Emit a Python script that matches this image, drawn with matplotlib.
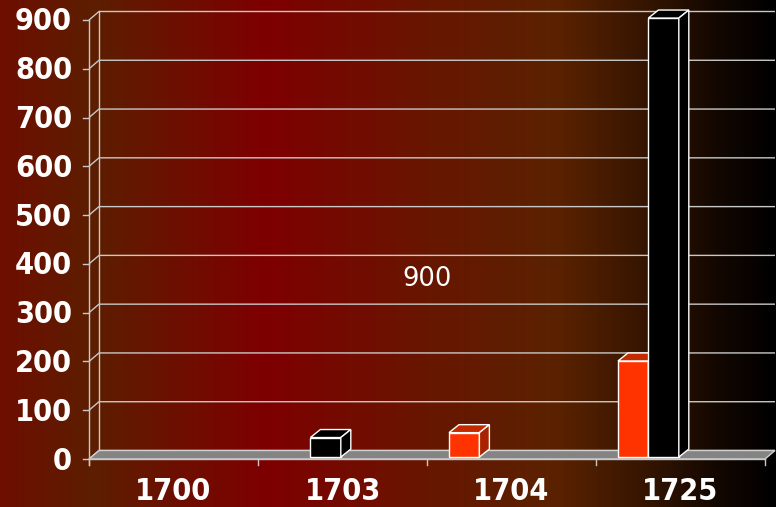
import numpy as np
import matplotlib
matplotlib.use("Agg")
import matplotlib.pyplot as plt
from matplotlib.colors import LinearSegmentedColormap
from matplotlib.patches import Polygon

# ---- data ----
categories = ["1700", "1703", "1704", "1725"]
series_red = [0, 0, 50, 197]
series_black = [0, 40, 0, 900]
y_ticks = [0, 100, 200, 300, 400, 500, 600, 700, 800, 900]
annotation_text = "900"
annotation_pos = (1.5, 370)

# ---- figure geometry (pixel mapping) ----
W, H = 776, 507
fig = plt.figure(figsize=(W / 100, H / 100), dpi=100)
ax = fig.add_axes([0, 0, 1, 1])
px_cat = 169.0           # pixels per category
px_val = 439.0 / 900.0   # pixels per value unit
x0 = -0.5 - 89 / px_cat
x1 = x0 + W / px_cat
y0 = -(H - 459) / px_val
y1 = y0 + H / px_val
ax.set_xlim(x0, x1)
ax.set_ylim(y0, y1)
ax.axis("off")

# background gradient
stops = [(0.0, "#6E0E00"), (0.12, "#5C1E00"), (0.34, "#7E0000"),
         (0.55, "#681600"), (0.72, "#5A2200"), (0.84, "#331400"),
         (0.92, "#150800"), (1.0, "#000000")]
cmap = LinearSegmentedColormap.from_list("bg", stops)
grad = np.linspace(0, 1, 512)[None, :]
ax.imshow(grad, extent=(x0, x1, y0, y1), aspect="auto", cmap=cmap,
          zorder=0, interpolation="bilinear")

# depth offsets in data units
wdx = 10 / px_cat
wdy = 8.5 / px_val
bdx = 10 / px_cat
bdy = 8 / px_val
xl, xr = -0.5, len(categories) - 0.5
grid_c = "#C8C8C8"

# back wall gridlines + side wall diagonals
for v in y_ticks:
    ax.plot([xl, xl + wdx, xr + wdx], [v, v + wdy, v + wdy], color=grid_c,
            lw=1.0, zorder=1, solid_capstyle="butt")
ax.plot([xl + wdx, xl + wdx], [wdy, y_ticks[-1] + wdy], color=grid_c, lw=1.0, zorder=1)

# floor
floor = Polygon([(xl, 0), (xr, 0), (xr + wdx, wdy), (xl + wdx, wdy)], closed=True,
                facecolor="#848484", edgecolor="#D0D0D0", lw=1.0, zorder=2)
ax.add_patch(floor)

# bars
def bar3d(xa, xb, v, front, top, side, z):
    base = 4.0
    if v <= 0:
        return
    yb, yt = base, base + v
    ax.add_patch(Polygon([(xa, yb), (xb, yb), (xb, yt), (xa, yt)], closed=True,
                         facecolor=front, edgecolor="white", lw=1.0, zorder=z))
    ax.add_patch(Polygon([(xa, yt), (xb, yt), (xb + bdx, yt + bdy), (xa + bdx, yt + bdy)],
                         closed=True, facecolor=top, edgecolor="white", lw=1.0, zorder=z))
    ax.add_patch(Polygon([(xb, yb), (xb + bdx, yb + bdy), (xb + bdx, yt + bdy), (xb, yt)],
                         closed=True, facecolor=side, edgecolor="white", lw=1.0, zorder=z))

for i in range(len(categories)):
    bar3d(i - 0.37, i - 0.19, series_red[i], "#FF3300", "#C42A00", "#A82200", 3)
    bar3d(i - 0.19, i - 0.01, series_black[i], "#000000", "#000000", "#000000", 4)

# front axes lines and ticks
ax.plot([xl, xl], [-6 / px_val * 1.0, y_ticks[-1]], color=grid_c, lw=1.0, zorder=5)
ax.plot([xl, xr], [0, 0], color=grid_c, lw=1.0, zorder=5)
for v in y_ticks:
    ax.plot([xl - 6 / px_cat, xl], [v, v], color=grid_c, lw=1.0, zorder=5)
for k in range(len(categories) + 1):
    xx = xl + k
    ax.plot([xx, xx], [0, -6 / px_val], color=grid_c, lw=1.0, zorder=5)

lab_font = dict(family="DejaVu Sans", fontstretch="condensed", fontweight="bold",
                color="white", fontsize=22)
for v in y_ticks:
    ax.text(xl - 17 / px_cat, v - 2 / px_val, str(v), ha="right", va="center", **lab_font)
for i, c in enumerate(categories):
    ax.text(i, -33 / px_val, c, ha="center", va="center", **lab_font)

ax.text(annotation_pos[0], annotation_pos[1], annotation_text, ha="center", va="center",
        color="white", fontsize=18.5, family="DejaVu Sans")

fig.savefig("out.png", dpi=100)
